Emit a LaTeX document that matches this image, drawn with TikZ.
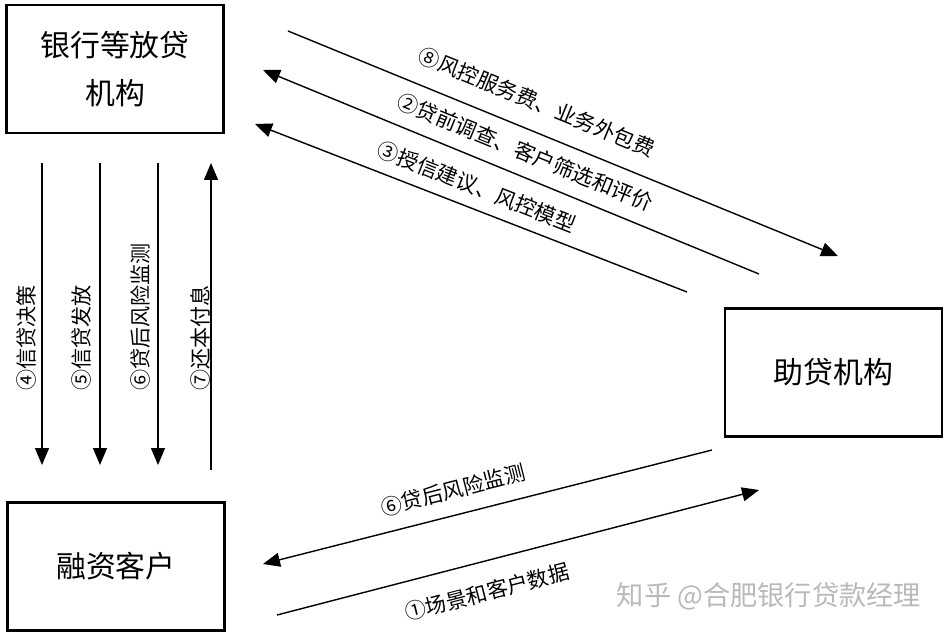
\documentclass[tikz,border=0pt]{standalone}
\usepackage{fontspec}
\setmainfont{Noto Sans CJK SC}
\usepackage{xcolor}
\usetikzlibrary{arrows.meta}

\begin{document}
\begin{tikzpicture}[
  x=0.02cm, y=-0.02cm,
  box/.style={
    draw, line width=1.6pt,
    minimum width=4.34cm, minimum height=2.56cm,
    align=center, font=\fontsize{17}{27}\selectfont
  },
  lbl/.style={font=\fontsize{12}{14}\selectfont, inner sep=1pt},
  arr/.style={-{Triangle[length=3.4mm,width=2.8mm]}, line width=0.8pt},
  ln/.style={line width=0.8pt},
]
\useasboundingbox (0,0) rectangle (948,636);

%% Boxes (pixel grid)
\node[box] (bank)   at (115,69)    {银行等放贷\\机构};
\node[box] (helper) at (833.5,372.5) {助贷机构};
\node[box] (client) at (116,566.5) {融资客户};

%% End points of the connectors
\coordinate (v4s) at (42,163);  \coordinate (v4e) at (42,465);
\coordinate (v5s) at (100,163); \coordinate (v5e) at (100,465);
\coordinate (v6s) at (158,163); \coordinate (v6e) at (158,465);
\coordinate (v7s) at (211,470); \coordinate (v7e) at (211,163);

\coordinate (d8s) at (288,31);  \coordinate (d8e) at (838,256);
\coordinate (d2s) at (759,274); \coordinate (d2e) at (263,70);
\coordinate (d3s) at (687,292); \coordinate (d3e) at (255,124);

\coordinate (b6s) at (712,450); \coordinate (b6e) at (263,564);
\coordinate (b1s) at (277,615); \coordinate (b1e) at (759,490);

%% Arrows: bank <-> client
\draw[arr] (v4s) -- (v4e);
\draw[arr] (v5s) -- (v5e);
\draw[arr] (v6s) -- (v6e);
\draw[arr] (v7s) -- (v7e);

%% Arrows: bank <-> helper
\draw[arr] (d8s) -- (d8e);
\draw[arr] (d2s) -- (d2e);
\draw[arr] (d3s) -- (d3e);

%% Arrows: client <-> helper
\draw[arr] (b6s) -- (b6e);
\draw[arr] (b1s) -- (b1e);

%% Labels
\node[lbl, rotate=90, anchor=west] (l4) at (26,393)  {④信贷决策};
\node[lbl, rotate=90, anchor=west] (l5) at (81,393)  {⑤信贷发放};
\node[lbl, rotate=90, anchor=west] (l6) at (140,393) {⑥贷后风险监测};
\node[lbl, rotate=90, anchor=west] (l7) at (200,393) {⑦还本付息};

\node[lbl, rotate=-22.3] (l8) at (537,102) {⑧风控服务费、业务外包费};
\node[lbl, rotate=-22.3] (l2) at (525,152) {②贷前调查、客户筛选和评价};
\node[lbl, rotate=-21.5] (l3) at (477,187) {③授信建议、风控模型};

\node[lbl, rotate=14.3] (l6b) at (453,490) {⑥贷后风险监测};
\node[lbl, rotate=14.5] (l1)  at (487,592) {①场景和客户数据};

%% Watermark
\node[font=\fontsize{15.5}{18}\selectfont, text=gray!55] (mark) at (769,596)
    {知乎 @合肥银行贷款经理};
\end{tikzpicture}
\end{document}
